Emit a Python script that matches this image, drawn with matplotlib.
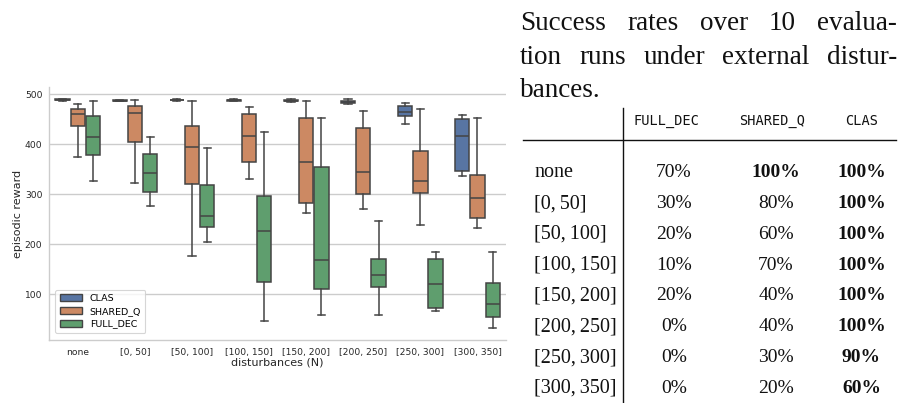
import matplotlib
matplotlib.use("Agg")
import matplotlib.pyplot as plt
from matplotlib.patches import Patch
import colorsys

W, H = 910, 403

categories = ["none", "[0, 50]", "[50, 100]", "[100, 150]", "[150, 200]",
              "[200, 250]", "[250, 300]", "[300, 350]"]
methods = ["CLAS", "SHARED_Q", "FULL_DEC"]

# episodic reward box statistics per disturbance range
clas_lo = [487, 486, 487, 486.5, 485, 480.6, 440.5, 337.3]
clas_q1 = [488, 486.5, 488, 487, 486, 482, 456.0, 345.9]
clas_med = [489, 487.3, 488.6, 488, 487.3, 484.6, 465.0, 415.9]
clas_q3 = [490, 488.5, 489.5, 489, 489.5, 487.3, 476.3, 450.6]
clas_hi = [490, 489, 490, 490, 490.5, 490, 482, 458]

shared_lo = [374, 323, 177, 331, 262, 270.6, 238.6, 233.3]
shared_q1 = [436.6, 404, 320, 364, 282, 300, 301.9, 251.9]
shared_med = [461.3, 462.6, 394.6, 417.3, 365.3, 344.6, 326.6, 293.3]
shared_q3 = [470, 476.6, 436, 460, 452.6, 432, 385.9, 339.3]
shared_hi = [480.6, 488.6, 485.9, 475.3, 487.3, 466, 470.6, 451.9]

full_lo = [326.6, 276.6, 204, 47.3, 58.6, 58.6, 66, 32]
full_q1 = [378.6, 304, 234, 124, 110.6, 115.3, 72.6, 54.6]
full_med = [415.3, 342, 256, 226, 168, 139.3, 120.6, 80]
full_q3 = [456.6, 380, 318.6, 296, 355.3, 170, 171.3, 122]
full_hi = [487.3, 415.3, 393.3, 424, 452, 247.3, 184.6, 184]

# success rates (%) over 10 evaluation runs
row_labels = ["none", "[0,\u200950]", "[50,\u2009100]", "[100,\u2009150]",
              "[150,\u2009200]", "[200,\u2009250]", "[250,\u2009300]", "[300,\u2009350]"]
table_cols = ["FULL_DEC", "SHARED_Q", "CLAS"]
full_rate = [70, 30, 20, 10, 20, 0, 0, 0]
shared_rate = [100, 80, 60, 70, 40, 40, 30, 20]
clas_rate = [100, 100, 100, 100, 100, 100, 90, 60]

caption_lines = [["Success", "rates", "over", "10", "evalua-"],
                 ["tion", "runs", "under", "external", "distur-"],
                 ["bances."]]


def desat(rgb, prop=0.75):
    h, l, s = colorsys.rgb_to_hls(*rgb)
    return colorsys.hls_to_rgb(h, l, s * prop)


deep = [(0.298, 0.447, 0.690), (0.867, 0.518, 0.322), (0.333, 0.659, 0.408)]
colors = [desat(c) for c in deep]
line_gray = "#444444"


def fx(px):
    return px / W


def fy(py):
    return 1 - py / H


fig = plt.figure(figsize=(W / 100, H / 100), dpi=100)
ax = fig.add_axes([fx(49.3), fy(340), fx(506) - fx(49.3), fy(87.3) - fy(340)])

stats = [(clas_lo, clas_q1, clas_med, clas_q3, clas_hi),
         (shared_lo, shared_q1, shared_med, shared_q3, shared_hi),
         (full_lo, full_q1, full_med, full_q3, full_hi)]
offsets = [-0.267, 0.0, 0.267]
box_w = 0.25

for k, (lo, q1, med, q3, hi) in enumerate(stats):
    bxs = [dict(whislo=lo[i], q1=q1[i], med=med[i], q3=q3[i], whishi=hi[i], fliers=[])
           for i in range(len(categories))]
    pos = [i + offsets[k] for i in range(len(categories))]
    ax.bxp(bxs, positions=pos, widths=box_w, capwidths=box_w / 2, patch_artist=True,
           showfliers=False, manage_ticks=False,
           boxprops=dict(facecolor=colors[k], edgecolor=line_gray, linewidth=1.1),
           medianprops=dict(color=line_gray, linewidth=1.1),
           whiskerprops=dict(color=line_gray, linewidth=1.1),
           capprops=dict(color=line_gray, linewidth=1.1), zorder=3)

ax.set_xlim(-0.5, len(categories) - 0.5)
ax.set_ylim(8.6, 514)
ax.set_xticks(range(len(categories)))
ax.set_xticklabels(categories)
ax.set_yticks([100, 200, 300, 400, 500])
ax.tick_params(axis="both", length=0, labelsize=6.6, labelcolor="#262626")
ax.tick_params(axis="x", pad=6)
ax.tick_params(axis="y", pad=5)
ax.yaxis.grid(True, color="#cccccc", linewidth=1.0, zorder=0)
ax.set_axisbelow(True)
for side in ["top", "right"]:
    ax.spines[side].set_visible(False)
for side in ["left", "bottom"]:
    ax.spines[side].set_color("#cccccc")
    ax.spines[side].set_linewidth(1.0)
ax.set_xlabel("disturbances (N)", fontsize=8, color="#262626", labelpad=0)
ax.set_ylabel("episodic reward", fontsize=8, color="#262626", labelpad=1)

handles = [Patch(facecolor=colors[k], edgecolor=line_gray, linewidth=1.0, label=m)
           for k, m in enumerate(methods)]
leg = ax.legend(handles=handles, loc="lower left", fontsize=6.8, frameon=True,
                borderpad=0.45, handlelength=2.4, handleheight=0.8, labelspacing=0.4,
                bbox_to_anchor=(0.003, 0.01))
leg.get_frame().set_edgecolor("#cccccc")
leg.get_frame().set_linewidth(0.8)

# caption, justified between two margins
serif = ["Liberation Serif", "DejaVu Serif"]
cap_left, cap_right = 520, 897
cap_base = [30, 63.5, 97]
renderer = fig.canvas.get_renderer()
for li, words in enumerate(caption_lines):
    texts = [fig.text(0, fy(cap_base[li]), w, fontsize=19.5, family=serif,
                      color="#111111", va="baseline", ha="left") for w in words]
    widths = [t.get_window_extent(renderer).width for t in texts]
    if li < len(caption_lines) - 1 and len(words) > 1:
        gap = (cap_right - cap_left - sum(widths)) / (len(words) - 1)
    else:
        gap = 19.5 * 0.3
    x = cap_left
    for t, w in zip(texts, widths):
        t.set_x(fx(x))
        x += w + gap

# success-rate table
col_x = [674, 776, 861.5]
head_x = [666.7, 771.7, 861.7]
for name, x in zip(table_cols, head_x):
    fig.text(fx(x), fy(121), name, fontsize=9.8, family="DejaVu Sans Mono",
             ha="center", va="center", color="#111111")

fig.add_artist(plt.Line2D([fx(523), fx(896)], [fy(140), fy(140)],
                          color="#111111", linewidth=1.0))
fig.add_artist(plt.Line2D([fx(623), fx(623)], [fy(108), fy(403)],
                          color="#111111", linewidth=1.0))

rates = [full_rate, shared_rate, clas_rate]
for i, lab in enumerate(row_labels):
    y = 173 + i * 30.75
    fig.text(fx(534), fy(y), lab, fontsize=14.5, family=serif, ha="left",
             va="center", color="#111111")
    best = max(r[i] for r in rates)
    for j, r in enumerate(rates):
        fig.text(fx(col_x[j]), fy(y), f"{r[i]}%", fontsize=14, family=serif,
                 ha="center", va="center", color="#111111",
                 fontweight="bold" if r[i] == best else "normal")

fig.savefig("out.png", dpi=100)
